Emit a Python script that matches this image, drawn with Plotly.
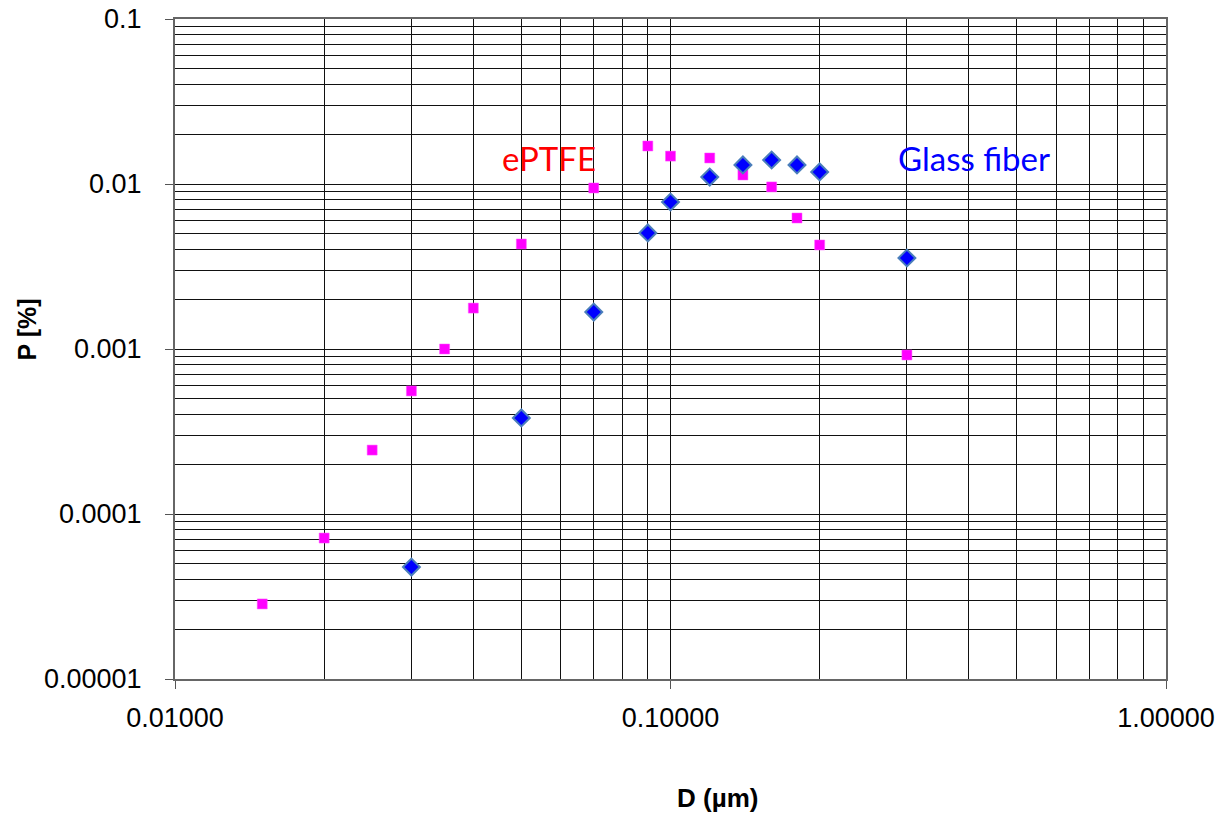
import plotly.graph_objects as go

# Particle diameter (µm) and penetration (%) for the two filter media
d_eptfe = [0.015, 0.02, 0.025, 0.03, 0.035, 0.04, 0.05, 0.07, 0.09, 0.10,
           0.12, 0.14, 0.16, 0.18, 0.20, 0.30]
p_eptfe = [2.85e-5, 7.15e-5, 2.44e-4, 5.57e-4, 1.0e-3, 1.77e-3, 4.33e-3, 9.46e-3,
           0.0170, 0.01476, 0.01438, 0.01134, 0.0096, 0.00622, 0.00427, 9.2e-4]

d_glass = [0.03, 0.05, 0.07, 0.09, 0.10, 0.12, 0.14, 0.16, 0.18, 0.20, 0.30]
p_glass = [4.77e-5, 3.82e-4, 1.675e-3, 5.05e-3, 7.78e-3, 0.01102, 0.01304,
           0.01398, 0.01304, 0.01183, 3.56e-3]

x_major = [0.01, 0.1, 1.0]
x_major_text = ["0.01000", "0.10000", "1.00000"]
y_major = [1e-5, 1e-4, 1e-3, 1e-2, 1e-1]
y_major_text = ["0.00001", "0.0001", "0.001", "0.01", "0.1"]


def minor_vals(lo_exp, hi_exp):
    vals = []
    for e in range(lo_exp, hi_exp):
        for m in range(2, 10):
            vals.append(m * 10.0 ** e)
    return vals


fig = go.Figure()
fig.add_trace(go.Scatter(
    x=d_eptfe, y=p_eptfe, mode="markers", name="ePTFE",
    marker=dict(symbol="square", size=10, color="#FF00FF",
                line=dict(width=0.5, color="#FF55FF")),
))
fig.add_trace(go.Scatter(
    x=d_glass, y=p_glass, mode="markers", name="Glass fiber",
    marker=dict(symbol="diamond", size=13, color="#0000FF",
                line=dict(width=2, color="#4A7EBB")),
))

arial = "Liberation Sans, Arial, sans-serif"
tick_font = dict(family=arial, size=27, color="#000000")
grid_col = "#111111"

fig.update_xaxes(
    type="log", range=[-2, 0], automargin=False,
    tickmode="array", tickvals=x_major, ticktext=x_major_text,
    tickfont=tick_font, ticks="outside", ticklen=8, tickcolor="#555555",
    showgrid=True, gridcolor=grid_col, gridwidth=1,
    minor=dict(tickmode="array", tickvals=minor_vals(-2, 0),
               showgrid=True, gridcolor=grid_col, gridwidth=1, ticks=""),
    showline=True, linecolor="#666666", linewidth=2, mirror=True,
    zeroline=False, ticklabelstandoff=6,
)
fig.update_yaxes(
    type="log", range=[-5, -1], automargin=False,
    tickmode="array", tickvals=y_major, ticktext=y_major_text,
    tickfont=tick_font, ticks="outside", ticklen=8, tickcolor="#555555",
    showgrid=True, gridcolor=grid_col, gridwidth=1,
    minor=dict(tickmode="array", tickvals=minor_vals(-5, -1),
               showgrid=True, gridcolor=grid_col, gridwidth=1, ticks=""),
    showline=True, linecolor="#666666", linewidth=2, mirror=True,
    zeroline=False, ticklabelstandoff=18,
)

# Axis titles
fig.add_annotation(x=0.547, y=-0.180, xref="paper", yref="paper",
                   text="<b>D (µm)</b>", showarrow=False,
                   xanchor="center", yanchor="middle",
                   font=dict(family=arial, size=26, color="#000000"))
fig.add_annotation(x=-0.149, y=0.53, xref="paper", yref="paper",
                   text="<b>P [%]</b>", showarrow=False, textangle=-90,
                   xanchor="center", yanchor="middle",
                   font=dict(family=arial, size=25, color="#000000"))

# Series labels
label_font = "Lato, Open Sans, sans-serif"
fig.add_annotation(x=0.377, y=0.789, xref="paper", yref="paper", text="ePTFE",
                   showarrow=False, xanchor="center", yanchor="middle",
                   font=dict(family=label_font, size=33, color="#FF0000"))
fig.add_annotation(x=0.806, y=0.789, xref="paper", yref="paper", text="Glass fiber",
                   showarrow=False, xanchor="center", yanchor="middle",
                   font=dict(family=label_font, size=33, color="#0000FF"))

fig.update_layout(
    width=1220, height=813,
    margin=dict(l=175, r=54, t=19, b=134),
    plot_bgcolor="#FFFFFF", paper_bgcolor="#FFFFFF",
    showlegend=False,
)

fig.write_html("out.html")
